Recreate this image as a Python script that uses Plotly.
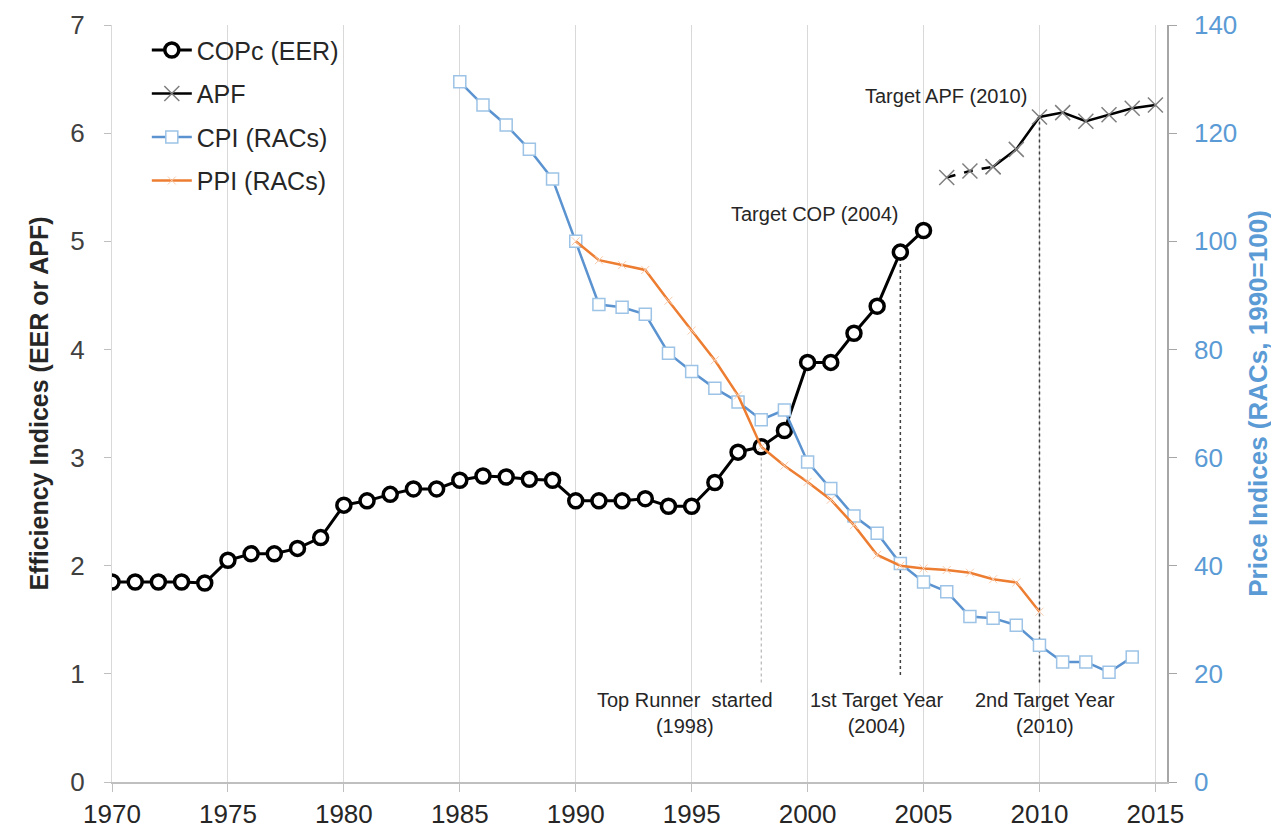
import plotly.graph_objects as go

# ---- data ----
years_cop = list(range(1970, 2006))
cop_eer = [1.85, 1.85, 1.85, 1.85, 1.84, 2.05, 2.11, 2.11, 2.16, 2.26,
           2.56, 2.60, 2.66, 2.71, 2.71, 2.79, 2.83, 2.82, 2.80, 2.79,
           2.60, 2.60, 2.60, 2.62, 2.55, 2.55, 2.77, 3.05, 3.10, 3.25,
           3.88, 3.88, 4.15, 4.40, 4.90, 5.10]

years_apf = list(range(2006, 2016))
apf = [5.59, 5.65, 5.69, 5.85, 6.15, 6.19, 6.11, 6.17, 6.23, 6.26]

years_cpi = list(range(1985, 2015))
cpi = [129.5, 125.2, 121.5, 117.0, 111.5, 100.0, 88.3, 87.8, 86.5, 79.3,
       75.9, 72.8, 70.3, 67.0, 68.8, 59.2, 54.3, 49.2, 46.0, 40.4,
       37.0, 35.2, 30.6, 30.3, 29.0, 25.3, 22.2, 22.2, 20.3, 23.1]

years_ppi = list(range(1990, 2011))
ppi = [100.0, 96.5, 95.6, 94.7, 89.0, 83.5, 78.0, 71.5, 62.0, 58.5,
       55.5, 52.2, 47.5, 42.0, 40.0, 39.5, 39.2, 38.7, 37.5, 36.9, 31.5]

x_ticks = [1970, 1975, 1980, 1985, 1990, 1995, 2000, 2005, 2010, 2015]
marker_years = [1998, 2004, 2010]
marker_tops = [3.10, 4.90, 6.15]
marker_labels = ["Top Runner  started<br>(1998)", "1st Target Year<br>(2004)",
                 "2nd Target Year<br>(2010)"]

FONT = "Liberation Sans, Arial, sans-serif"
BLUE_TXT = "#5B9BD5"

fig = go.Figure()

fig.add_trace(go.Scatter(
    x=years_cop, y=cop_eer, name="COPc (EER)", mode="lines+markers",
    legendgroup="cop",
    line=dict(color="black", width=3),
    marker=dict(symbol="circle", size=14, color="white",
                line=dict(color="black", width=3.5)),
    yaxis="y"))

# APF: dashed first part, solid remainder
fig.add_trace(go.Scatter(
    x=years_apf[:3], y=apf[:3], name="APF", mode="lines+markers",
    legendgroup="apf", showlegend=False,
    line=dict(color="black", width=2.5, dash="dash"),
    marker=dict(symbol="x-thin", size=15, color="#7F7F7F",
                line=dict(color="#7F7F7F", width=1.5)),
    yaxis="y"))
fig.add_trace(go.Scatter(
    x=years_apf[2:], y=apf[2:], name="APF", mode="lines+markers",
    legendgroup="apf",
    line=dict(color="black", width=2.5),
    marker=dict(symbol="x-thin", size=15, color="#7F7F7F",
                line=dict(color="#7F7F7F", width=1.5)),
    yaxis="y"))

fig.add_trace(go.Scatter(
    x=years_cpi, y=cpi, name="CPI (RACs)", mode="lines+markers",
    legendgroup="cpi",
    line=dict(color="#5B93D0", width=2.5),
    marker=dict(symbol="square", size=12, color="white",
                line=dict(color="#9DC3E6", width=1.5)),
    yaxis="y2"))

fig.add_trace(go.Scatter(
    x=years_ppi, y=ppi, name="PPI (RACs)", mode="lines+markers",
    legendgroup="ppi",
    line=dict(color="#ED7D31", width=2.5),
    marker=dict(symbol="x-thin", size=8, color="#F8CBAD",
                line=dict(color="#F8CBAD", width=1)),
    yaxis="y2"))

shapes = []
line_styles = [dict(color="#A6A6A6", width=1, dash="dot"),
               dict(color="#404040", width=1.5, dash="dot"),
               dict(color="#404040", width=1.5, dash="dot")]
bottoms = [0.92, 0.99, 0.92]
for yr, top, bot, st in zip(marker_years, marker_tops, bottoms, line_styles):
    shapes.append(dict(type="line", xref="x", yref="y", x0=yr, x1=yr,
                       y0=bot, y1=top, line=st, layer="between"))

annotations = []
for yr, lab, cx in zip(marker_years, marker_labels, [1994.7, 2002.97, 2010.25]):
    annotations.append(dict(x=cx, y=0.64, xref="x", yref="y", text=lab,
                            showarrow=False, align="center",
                            font=dict(family=FONT, size=20, color="#262626")))
annotations.append(dict(x=2000.3, y=5.25, xref="x", yref="y",
                        text="Target COP (2004)", showarrow=False,
                        font=dict(family=FONT, size=20, color="#262626")))
annotations.append(dict(x=2005.95, y=6.34, xref="x", yref="y",
                        text="Target APF (2010)", showarrow=False,
                        font=dict(family=FONT, size=20, color="#262626")))

fig.update_layout(
    width=1271, height=827,
    margin=dict(l=104, r=112, t=17, b=53),
    paper_bgcolor="white", plot_bgcolor="white",
    font=dict(family=FONT, color="#404040"),
    showlegend=True,
    legend=dict(x=0.033, y=0.997, xanchor="left", yanchor="top",
                bgcolor="rgba(0,0,0,0)", traceorder="grouped",
                tracegroupgap=8, itemwidth=40,
                font=dict(family=FONT, size=25, color="#262626")),
    xaxis=dict(range=[1970, 2015.5], tickvals=x_ticks,
               showgrid=True, gridcolor="#D9D9D9", gridwidth=1,
               showline=True, linecolor="#BFBFBF", linewidth=1.5,
               ticks="outside", ticklen=8, tickcolor="#BFBFBF",
               tickfont=dict(family=FONT, size=26, color="#262626"),
               zeroline=False, automargin=False),
    yaxis=dict(range=[0, 7], dtick=1, showgrid=False,
               showline=True, linecolor="#D9D9D9", linewidth=1,
               ticks="outside", ticklen=7, tickcolor="#BFBFBF",
               ticklabelstandoff=14,
               tickfont=dict(family=FONT, size=26, color="#404040"),
               title=dict(text="<b>Efficiency Indices (EER or APF)</b>",
                          font=dict(family=FONT, size=25, color="#262626"),
                          standoff=14),
               zeroline=False, automargin=False),
    yaxis2=dict(range=[0, 140], dtick=20, overlaying="y", side="right",
                showgrid=False, showline=True, linecolor="#A6A6A6",
                linewidth=1.5, ticks="outside", ticklen=8,
                tickcolor="#A6A6A6", ticklabelstandoff=12,
                tickfont=dict(family=FONT, size=26, color=BLUE_TXT),
                title=dict(text="<b>Price Indices (RACs, 1990=100)</b>",
                           font=dict(family=FONT, size=26, color=BLUE_TXT),
                           standoff=12),
                zeroline=False, automargin=False),
    shapes=shapes, annotations=annotations,
)

fig.write_html("out.html")
